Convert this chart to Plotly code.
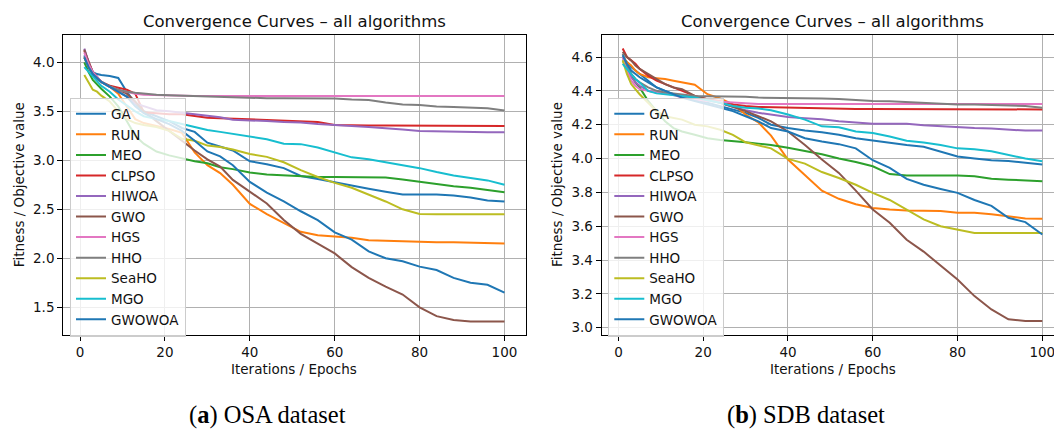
import plotly.graph_objects as go

# ---------------- data ----------------
iters = [1, 2, 3, 4, 5, 7, 9, 11, 13, 15, 18, 21, 24, 27, 30, 33, 36, 40, 44, 48,
         52, 56, 60, 64, 68, 72, 76, 80, 84, 88, 92, 96, 100]

algorithms = ["GA", "RUN", "MEO", "CLPSO", "HIWOA", "GWO", "HGS", "HHO", "SeaHO", "MGO", "GWOWOA"]
colors = ["#1f77b4", "#ff7f0e", "#2ca02c", "#d62728", "#9467bd", "#8c564b",
          "#e377c2", "#7f7f7f", "#bcbd22", "#17becf", "#1f77b4"]

# (a) OSA dataset
osa_GA = [4.07, 3.95, 3.90, 3.88, 3.87, 3.86, 3.84, 3.70, 3.58, 3.50, 3.45, 3.40, 3.33, 3.29, 3.18, 3.14, 3.10,
          2.99, 2.96, 2.92, 2.84, 2.81, 2.775, 2.74, 2.71, 2.68, 2.65, 2.65, 2.65, 2.64, 2.62, 2.59, 2.58]
osa_RUN = [4.05, 3.95, 3.88, 3.83, 3.80, 3.75, 3.68, 3.55, 3.42, 3.38, 3.35, 3.32, 3.28, 3.08, 2.95, 2.87, 2.75,
           2.555, 2.45, 2.36, 2.27, 2.235, 2.22, 2.21, 2.185, 2.18, 2.175, 2.165, 2.165, 2.165, 2.16, 2.155, 2.15]
osa_MEO = [4.00, 3.90, 3.82, 3.77, 3.73, 3.65, 3.55, 3.40, 3.25, 3.17, 3.09, 3.05, 3.02, 2.99, 2.97, 2.93, 2.91,
           2.875, 2.855, 2.845, 2.84, 2.83, 2.83, 2.83, 2.83, 2.825, 2.805, 2.78, 2.76, 2.735, 2.72, 2.70, 2.673]
osa_CLPSO = [4.12, 4.00, 3.90, 3.85, 3.80, 3.76, 3.74, 3.72, 3.68, 3.49, 3.48, 3.47, 3.47, 3.455, 3.435, 3.43, 3.425,
             3.418, 3.41, 3.40, 3.395, 3.39, 3.36, 3.355, 3.355, 3.355, 3.355, 3.355, 3.35, 3.35, 3.35, 3.35, 3.35]
osa_HIWOA = [4.14, 4.00, 3.90, 3.85, 3.80, 3.75, 3.70, 3.65, 3.58, 3.55, 3.51, 3.50, 3.485, 3.47, 3.46, 3.44, 3.415,
             3.41, 3.40, 3.39, 3.385, 3.37, 3.357, 3.35, 3.34, 3.33, 3.315, 3.30, 3.295, 3.29, 3.285, 3.285, 3.285]
osa_GWO = [4.13, 4.00, 3.90, 3.85, 3.80, 3.76, 3.72, 3.68, 3.60, 3.50, 3.40, 3.30, 3.20, 3.10, 3.01, 2.935, 2.80,
           2.68, 2.56, 2.39, 2.25, 2.15, 2.05, 1.91, 1.80, 1.71, 1.63, 1.50, 1.41, 1.37, 1.355, 1.355, 1.355]
osa_HGS = [4.10, 3.98, 3.90, 3.85, 3.80, 3.75, 3.72, 3.70, 3.68, 3.67, 3.665, 3.66, 3.656, 3.656, 3.656, 3.656, 3.656,
           3.656, 3.656, 3.656, 3.656, 3.656, 3.656, 3.656, 3.656, 3.656, 3.656, 3.656, 3.656, 3.656, 3.656, 3.656, 3.656]
osa_HHO = [4.05, 3.95, 3.88, 3.83, 3.80, 3.75, 3.72, 3.70, 3.69, 3.68, 3.67, 3.665, 3.66, 3.655, 3.65, 3.645, 3.64,
           3.635, 3.633, 3.633, 3.633, 3.633, 3.63, 3.62, 3.615, 3.59, 3.57, 3.565, 3.55, 3.545, 3.54, 3.53, 3.507]
osa_SeaHO = [3.87, 3.80, 3.72, 3.70, 3.66, 3.60, 3.50, 3.42, 3.38, 3.36, 3.34, 3.30, 3.22, 3.20, 3.15, 3.135, 3.11,
             3.065, 3.035, 2.98, 2.90, 2.83, 2.77, 2.72, 2.65, 2.58, 2.50, 2.452, 2.45, 2.45, 2.45, 2.45, 2.45]
osa_MGO = [3.95, 3.90, 3.85, 3.80, 3.76, 3.70, 3.62, 3.56, 3.50, 3.45, 3.42, 3.40, 3.37, 3.34, 3.31, 3.29, 3.27,
           3.24, 3.215, 3.17, 3.165, 3.13, 3.08, 3.03, 3.01, 2.98, 2.945, 2.92, 2.88, 2.845, 2.82, 2.795, 2.75]
osa_GWOWOA = [4.05, 3.95, 3.88, 3.84, 3.80, 3.75, 3.70, 3.65, 3.55, 3.48, 3.42, 3.37, 3.30, 3.20, 3.09, 3.04, 2.95,
              2.78, 2.67, 2.58, 2.48, 2.39, 2.265, 2.19, 2.07, 2.00, 1.97, 1.915, 1.88, 1.80, 1.75, 1.73, 1.65]

# (b) SDB dataset
sdb_GA = [4.60, 4.57, 4.54, 4.52, 4.50, 4.46, 4.42, 4.40, 4.38, 4.37, 4.35, 4.33, 4.31, 4.29, 4.27, 4.24, 4.20,
          4.18, 4.165, 4.155, 4.14, 4.12, 4.106, 4.09, 4.08, 4.07, 4.04, 4.012, 4.00, 3.99, 3.985, 3.975, 3.964]
sdb_RUN = [4.60, 4.57, 4.55, 4.52, 4.50, 4.48, 4.475, 4.47, 4.46, 4.45, 4.436, 4.38, 4.355, 4.32, 4.26, 4.214, 4.135,
           3.994, 3.90, 3.81, 3.762, 3.73, 3.708, 3.698, 3.693, 3.693, 3.69, 3.679, 3.679, 3.67, 3.658, 3.646, 3.644]
sdb_MEO = [4.58, 4.54, 4.50, 4.45, 4.42, 4.34, 4.28, 4.22, 4.18, 4.16, 4.14, 4.12, 4.11, 4.105, 4.096, 4.088, 4.08,
           4.063, 4.045, 4.025, 4.00, 3.98, 3.954, 3.908, 3.90, 3.90, 3.90, 3.90, 3.895, 3.88, 3.875, 3.872, 3.866]
sdb_CLPSO = [4.65, 4.60, 4.58, 4.56, 4.53, 4.49, 4.46, 4.44, 4.42, 4.40, 4.37, 4.35, 4.34, 4.32, 4.31, 4.305, 4.303,
             4.303, 4.298, 4.295, 4.293, 4.293, 4.293, 4.293, 4.29, 4.29, 4.29, 4.29, 4.29, 4.29, 4.29, 4.29, 4.29]
sdb_HIWOA = [4.60, 4.53, 4.48, 4.45, 4.43, 4.40, 4.39, 4.385, 4.38, 4.37, 4.36, 4.345, 4.33, 4.305, 4.285, 4.27, 4.26,
             4.245, 4.238, 4.232, 4.22, 4.212, 4.206, 4.206, 4.206, 4.196, 4.19, 4.185, 4.18, 4.177, 4.172, 4.165, 4.165]
sdb_GWO = [4.63, 4.60, 4.58, 4.55, 4.53, 4.50, 4.47, 4.44, 4.42, 4.41, 4.37, 4.35, 4.33, 4.305, 4.28, 4.25, 4.22,
           4.16, 4.08, 3.994, 3.915, 3.81, 3.699, 3.62, 3.52, 3.45, 3.37, 3.285, 3.187, 3.108, 3.05, 3.04, 3.04]
sdb_HGS = [4.60, 4.52, 4.46, 4.43, 4.41, 4.40, 4.39, 4.385, 4.375, 4.36, 4.35, 4.34, 4.335, 4.33, 4.325, 4.322, 4.322,
           4.322, 4.322, 4.322, 4.322, 4.322, 4.322, 4.322, 4.322, 4.322, 4.322, 4.322, 4.322, 4.322, 4.322, 4.322, 4.322]
sdb_HHO = [4.62, 4.55, 4.50, 4.47, 4.45, 4.42, 4.40, 4.39, 4.385, 4.38, 4.37, 4.368, 4.368, 4.368, 4.365, 4.36, 4.358,
           4.356, 4.354, 4.354, 4.352, 4.345, 4.34, 4.338, 4.333, 4.33, 4.325, 4.32, 4.32, 4.318, 4.316, 4.31, 4.30]
sdb_SeaHO = [4.58, 4.50, 4.44, 4.41, 4.38, 4.33, 4.28, 4.25, 4.24, 4.23, 4.20, 4.19, 4.17, 4.14, 4.096, 4.08, 4.06,
             3.998, 3.97, 3.92, 3.885, 3.845, 3.797, 3.755, 3.70, 3.64, 3.60, 3.58, 3.56, 3.56, 3.56, 3.56, 3.56]
sdb_MGO = [4.56, 4.53, 4.50, 4.47, 4.45, 4.40, 4.385, 4.38, 4.375, 4.37, 4.36, 4.345, 4.33, 4.31, 4.30, 4.295, 4.285,
           4.26, 4.23, 4.19, 4.185, 4.16, 4.151, 4.13, 4.105, 4.095, 4.08, 4.06, 4.055, 4.043, 4.02, 4.00, 3.984]
sdb_GWOWOA = [4.61, 4.56, 4.52, 4.50, 4.48, 4.45, 4.42, 4.40, 4.38, 4.36, 4.34, 4.32, 4.30, 4.28, 4.25, 4.22, 4.18,
              4.16, 4.12, 4.10, 4.085, 4.06, 3.99, 3.945, 3.88, 3.845, 3.82, 3.797, 3.755, 3.72, 3.65, 3.624, 3.551]

osa_series = [osa_GA, osa_RUN, osa_MEO, osa_CLPSO, osa_HIWOA, osa_GWO, osa_HGS, osa_HHO, osa_SeaHO, osa_MGO, osa_GWOWOA]
sdb_series = [sdb_GA, sdb_RUN, sdb_MEO, sdb_CLPSO, sdb_HIWOA, sdb_GWO, sdb_HGS, sdb_HHO, sdb_SeaHO, sdb_MGO, sdb_GWOWOA]

x_ticks = [0, 20, 40, 60, 80, 100]
osa_y_ticks = [1.5, 2.0, 2.5, 3.0, 3.5, 4.0]
sdb_y_ticks = [3.0, 3.2, 3.4, 3.6, 3.8, 4.0, 4.2, 4.4, 4.6]

# ---------------- figure ----------------
W, H = 1054, 430
FONT = "DejaVu Sans"
fig = go.Figure()

for name, col, ys in zip(algorithms, colors, osa_series):
    fig.add_trace(go.Scatter(x=iters, y=ys, mode="lines", name=name,
                             line=dict(color=col, width=2), xaxis="x", yaxis="y", legend="legend"))
for name, col, ys in zip(algorithms, colors, sdb_series):
    fig.add_trace(go.Scatter(x=iters, y=ys, mode="lines", name=name,
                             line=dict(color=col, width=2), xaxis="x2", yaxis="y2", legend="legend2"))

def px_x(p):
    return p / W

def px_y(p):
    return 1 - p / H

axis_common = dict(showgrid=True, gridcolor="#b0b0b0", gridwidth=1, zeroline=False,
                   showline=True, linecolor="black", linewidth=1.2,
                   ticks="outside", ticklen=5, tickwidth=1, tickcolor="black",
                   ticklabeloverflow="allow",
                   tickfont=dict(family=FONT, size=13.5, color="#111111"))

ydom = [px_y(334.5), px_y(35)]
legend_style = dict(xanchor="left", yanchor="top",
                    bgcolor="rgba(255,255,255,0.8)", bordercolor="#cccccc", borderwidth=1,
                    font=dict(family=FONT, size=13.5, color="#111111"))
fig.update_layout(
    width=W, height=H, margin=dict(l=0, r=0, t=0, b=0),
    paper_bgcolor="white", plot_bgcolor="white",
    xaxis=dict(domain=[px_x(63.3), px_x(525.5)], range=[-3.95, 104.95], tickvals=x_ticks,
               mirror=True, anchor="y", **axis_common),
    yaxis=dict(domain=ydom, range=[1.2224, 4.2786], tickvals=osa_y_ticks, tickformat=".1f",
               mirror=True, anchor="x", **axis_common),
    xaxis2=dict(domain=[px_x(601.7), 1.0], range=[-3.95, 102.76], tickvals=x_ticks,
                mirror=True, anchor="y2", **axis_common),
    yaxis2=dict(domain=ydom, range=[2.960, 4.730], tickvals=sdb_y_ticks, tickformat=".1f",
                mirror=False, anchor="x2", **axis_common),
    legend=dict(x=px_x(70), y=px_y(97.5), **legend_style),
    legend2=dict(x=px_x(608.3), y=px_y(97.5), **legend_style),
    showlegend=True,
)

annots = []
for cx, ylab_x in [((63.3 + 525.5) / 2, 18.6), ((601.7 + 1063.9) / 2, 556.4)]:
    annots.append(dict(text="Convergence Curves \u2013 all algorithms", x=px_x(cx), y=px_y(22),
                       xref="paper", yref="paper", showarrow=False, xanchor="center", yanchor="middle",
                       font=dict(family=FONT, size=16.5, color="#111111")))
    annots.append(dict(text="Iterations / Epochs", x=px_x(cx), y=px_y(369),
                       xref="paper", yref="paper", showarrow=False, xanchor="center", yanchor="middle",
                       font=dict(family=FONT, size=13.5, color="#111111")))
    annots.append(dict(text="Fitness / Objective value", x=px_x(ylab_x), y=px_y(184.7), textangle=-90,
                       xref="paper", yref="paper", showarrow=False, xanchor="center", yanchor="middle",
                       font=dict(family=FONT, size=13.5, color="#111111")))
annots.append(dict(text="(<b>a</b>) OSA dataset", x=px_x(267.5), y=px_y(415),
                   xref="paper", yref="paper", showarrow=False, xanchor="center", yanchor="middle",
                   font=dict(family="Liberation Serif", size=24.5, color="black")))
annots.append(dict(text="(<b>b</b>) SDB dataset", x=px_x(806), y=px_y(415),
                   xref="paper", yref="paper", showarrow=False, xanchor="center", yanchor="middle",
                   font=dict(family="Liberation Serif", size=24.5, color="black")))
fig.update_layout(annotations=annots)

fig.write_html("out.html", config={"displayModeBar": False, "responsive": False},
               post_script="document.body.style.margin='0px';document.body.style.overflow='hidden';")
